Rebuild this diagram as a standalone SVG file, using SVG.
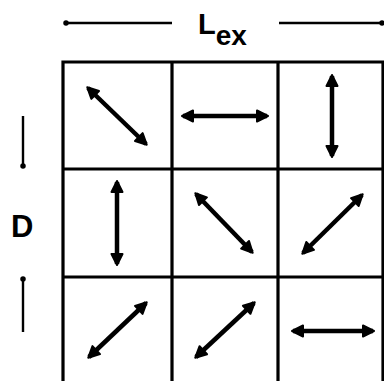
<svg xmlns="http://www.w3.org/2000/svg" width="384" height="381" viewBox="0 0 384 381">
<style>
.grid{fill:none;stroke:#000;stroke-width:3.2}
.arr{stroke:#000;stroke-width:4.5;fill:none;marker-start:url(#ah);marker-end:url(#ah)}
.dim{stroke:#000;stroke-width:2.4;fill:none;marker-end:url(#dot)}
.lbl{font-family:"Liberation Sans",Arial,sans-serif;font-weight:bold;fill:#000}
</style>
<defs>
<marker id="ah" viewBox="-2 -2 16 16" refX="10" refY="6" markerWidth="16" markerHeight="16" markerUnits="userSpaceOnUse" orient="auto-start-reverse">
<path d="M0,0.5 L11,6 L0,11.5 Z" fill="#000" stroke="#000" stroke-width="2" stroke-linejoin="round"/>
</marker>
<marker id="dot" viewBox="0 0 6 6" refX="3" refY="3" markerWidth="5.5" markerHeight="5.5" markerUnits="userSpaceOnUse">
<circle cx="3" cy="3" r="3" fill="#000"/>
</marker>
</defs>
<g id="labels">
<text class="lbl" x="198" y="34" font-size="29">L<tspan font-size="28" dy="11">ex</tspan></text>
<text class="lbl" x="11" y="237" font-size="31">D</text>
</g>
<g id="dimensions">
<line class="dim" x1="172" y1="23" x2="66" y2="23"/>
<line class="dim" x1="279" y1="23" x2="382" y2="23"/>
<line class="dim" x1="23" y1="116" x2="23" y2="166"/>
<line class="dim" x1="23" y1="332" x2="23" y2="279"/>
</g>
<g id="grid">
<path class="grid" d="M63,390 V62 H383 V390 M172,62 V390 M278,62 V390 M63,169 H383 M63,277 H383"/>
</g>
<g id="connectors">
<line class="arr" x1="88" y1="88" x2="146" y2="144"/>
<line class="arr" x1="183" y1="116" x2="267" y2="116"/>
<line class="arr" x1="332" y1="76" x2="332" y2="156"/>
<line class="arr" x1="117" y1="182" x2="117" y2="264"/>
<line class="arr" x1="196" y1="194" x2="252" y2="252"/>
<line class="arr" x1="303" y1="253" x2="362" y2="195"/>
<line class="arr" x1="89" y1="357" x2="146" y2="303"/>
<line class="arr" x1="196" y1="357" x2="254" y2="303"/>
<line class="arr" x1="293" y1="331" x2="373" y2="331"/>
</g>
</svg>
